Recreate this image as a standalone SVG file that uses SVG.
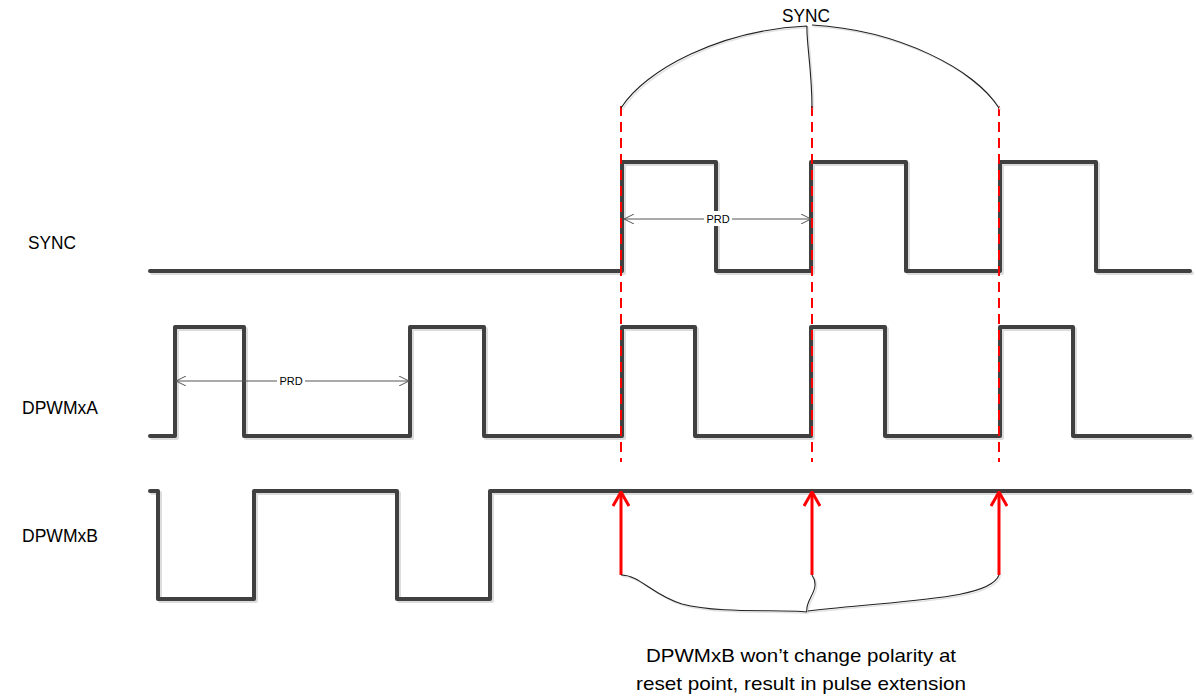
<svg xmlns="http://www.w3.org/2000/svg" width="1196" height="696" viewBox="0 0 1196 696">
<style>
  .wave{fill:none;stroke:#404040;stroke-width:4;stroke-linejoin:round;stroke-linecap:round}
  .shadow{fill:none;stroke:#dcdcdc;stroke-width:4;stroke-linejoin:round;stroke-linecap:round}
  .reset{stroke:#ff0000;stroke-width:2;stroke-dasharray:10 6;fill:none}
  .arrow{stroke:#ff0000;stroke-width:3;fill:none}
  .brace{fill:none;stroke:#222;stroke-width:1.1}
  .braceSh{fill:none;stroke:#e2e2e2;stroke-width:1.5}
  .dim{stroke:#555;stroke-width:1;fill:none}
  .lbl{font-family:"Liberation Sans",Arial,sans-serif;font-size:19px;fill:#000}
  .small{font-family:"Liberation Sans",Arial,sans-serif;font-size:11px;fill:#000}
</style>
<defs>
  <marker id="open" viewBox="0 0 10 10" refX="10" refY="5" markerWidth="10" markerHeight="10" markerUnits="userSpaceOnUse" orient="auto-start-reverse">
    <path d="M0,0 L10,5 L0,10" fill="none" stroke="#555" stroke-width="1"/>
  </marker>
  <marker id="redHead" viewBox="0 0 18 16" refX="9" refY="1" markerWidth="18" markerHeight="16" markerUnits="userSpaceOnUse" orient="0">
    <path d="M1,15 L9,1 L17,15" fill="none" stroke="#ff0000" stroke-width="3" stroke-linejoin="round"/>
  </marker>
</defs>

<g id="labels">
  <text class="lbl" x="28" y="249" textLength="48" lengthAdjust="spacingAndGlyphs">SYNC</text>
  <text class="lbl" x="22" y="414" textLength="76" lengthAdjust="spacingAndGlyphs">DPWMxA</text>
  <text class="lbl" x="22" y="542" textLength="76" lengthAdjust="spacingAndGlyphs">DPWMxB</text>
</g>

<g id="sync-wave">
  <path class="shadow" transform="translate(2,2)" d="M150,271 H622 V162 H716 V271 H811 V162 H906 V271 H1000 V162 H1096 V271 H1190"/>
  <path class="wave" d="M150,271 H622 V162 H716 V271 H811 V162 H906 V271 H1000 V162 H1096 V271 H1190"/>
</g>

<g id="dpwmxa-wave">
  <path class="shadow" transform="translate(2,2)" d="M150,436 H175 V327 H244 V436 H410 V327 H484 V436 H622 V327 H695 V436 H811 V327 H885 V436 H1000 V327 H1073 V436 H1190"/>
  <path class="wave" d="M150,436 H175 V327 H244 V436 H410 V327 H484 V436 H622 V327 H695 V436 H811 V327 H885 V436 H1000 V327 H1073 V436 H1190"/>
</g>

<g id="dpwmxb-wave">
  <path class="shadow" transform="translate(2,2)" d="M150,491 H158 V599 H254 V491 H397 V599 H490 V491 H1190"/>
  <path class="wave" d="M150,491 H158 V599 H254 V491 H397 V599 H490 V491 H1190"/>
</g>

<g id="reset-lines">
  <line class="reset" x1="621" y1="106" x2="621" y2="462"/>
  <line class="reset" x1="812" y1="106" x2="812" y2="462"/>
  <line class="reset" x1="999" y1="106" x2="999" y2="462"/>
</g>

<g id="prd-sync">
  <line class="dim" x1="624" y1="219" x2="811" y2="219" marker-start="url(#open)" marker-end="url(#open)"/>
  <rect x="704" y="211" width="28" height="15" fill="#fff"/>
  <text class="small" x="718" y="223" text-anchor="middle">PRD</text>
</g>

<g id="prd-a">
  <line class="dim" x1="176" y1="381" x2="409" y2="381" marker-start="url(#open)" marker-end="url(#open)"/>
  <rect x="277" y="373" width="28" height="15" fill="#fff"/>
  <text class="small" x="291" y="385" text-anchor="middle">PRD</text>
</g>

<g id="top-brace">
  <path class="braceSh" transform="translate(1.5,1.5)" d="M621,108 C645,70 720,30 807,26 M812,108 C812,70 806,40 807,26 M999,108 C975,70 900,30 812,25"/>
  <path class="brace" d="M621,108 C645,70 720,30 807,26 M812,108 C812,70 806,40 807,26 M999,108 C975,70 900,30 812,25"/>
  <text class="lbl" x="806" y="22" text-anchor="middle" textLength="48" lengthAdjust="spacingAndGlyphs">SYNC</text>
</g>

<g id="connectors">
  <line class="arrow" x1="621" y1="575" x2="621" y2="492" marker-end="url(#redHead)"/>
  <line class="arrow" x1="812" y1="575" x2="812" y2="492" marker-end="url(#redHead)"/>
  <line class="arrow" x1="999" y1="575" x2="999" y2="492" marker-end="url(#redHead)"/>
</g>

<g id="bottom-brace">
  <path class="braceSh" transform="translate(1.5,1.5)" d="M621,575 C640,575 652,595 682,604 C720,614 780,609 807,612 M812,575 C822,590 804,600 807,612 M999,575 C990,600 900,600 808,611"/>
  <path class="brace" d="M621,575 C640,575 652,595 682,604 C720,614 780,609 807,612 M812,575 C822,590 804,600 807,612 M999,575 C990,600 900,600 808,611"/>
</g>

<g id="note">
  <text class="lbl" x="801" y="662" text-anchor="middle" textLength="310" lengthAdjust="spacingAndGlyphs">DPWMxB won’t change polarity at</text>
  <text class="lbl" x="801" y="690" text-anchor="middle" textLength="330" lengthAdjust="spacingAndGlyphs">reset point, result in pulse extension</text>
</g>
</svg>
